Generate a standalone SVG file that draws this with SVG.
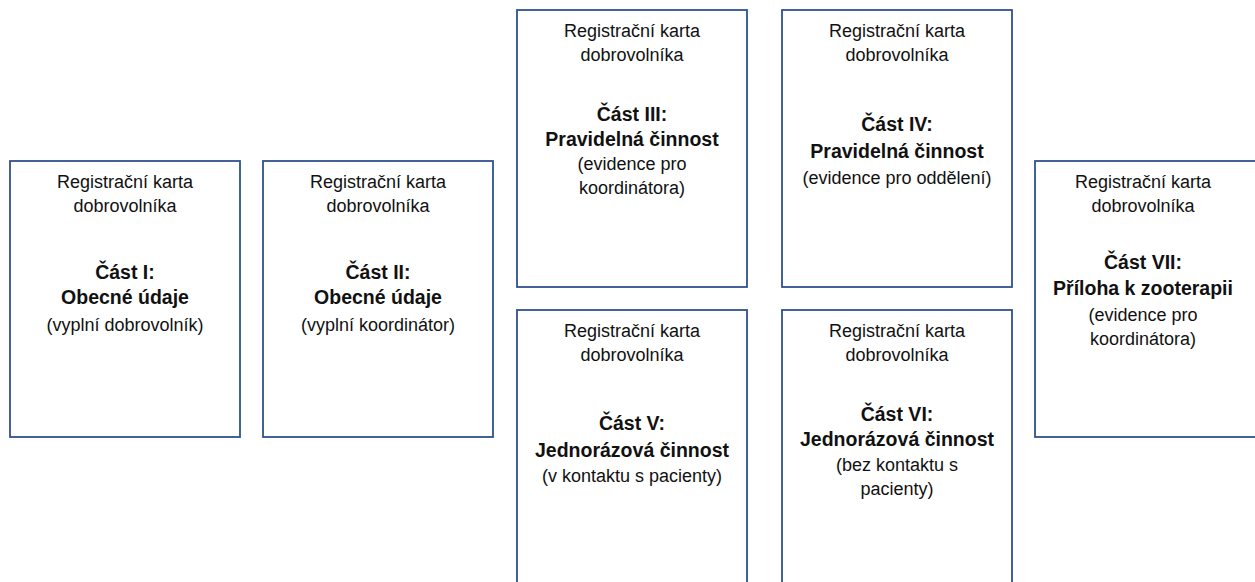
<svg xmlns="http://www.w3.org/2000/svg" width="1255" height="582" viewBox="0 0 1255 582">
<style>
.box{fill:#ffffff;stroke:#2f528f;stroke-width:1.8}
text{font-family:"Liberation Sans",Arial,sans-serif;fill:#111;text-anchor:middle}
.n{font-size:18px}
.b{font-size:19.5px;font-weight:bold}
</style>
<rect width="1255" height="582" fill="#ffffff"/>
<g id="connectors"></g>
<g id="node1">
<rect class="box" x="10" y="161" width="230" height="276"/>
<text class="n" x="125" y="188">Registrační karta</text>
<text class="n" x="125" y="212">dobrovolníka</text>
<text class="b" x="125" y="279">Část I:</text>
<text class="b" x="125" y="304">Obecné údaje</text>
<text class="n" x="125" y="331">(vyplní dobrovolník)</text>
</g>
<g id="node2">
<rect class="box" x="263" y="161" width="230" height="276"/>
<text class="n" x="378" y="188">Registrační karta</text>
<text class="n" x="378" y="212">dobrovolníka</text>
<text class="b" x="378" y="279">Část II:</text>
<text class="b" x="378" y="304">Obecné údaje</text>
<text class="n" x="378" y="331">(vyplní koordinátor)</text>
</g>
<g id="node3">
<rect class="box" x="517" y="10" width="230" height="277"/>
<text class="n" x="632" y="37">Registrační karta</text>
<text class="n" x="632" y="61">dobrovolníka</text>
<text class="b" x="632" y="121">Část III:</text>
<text class="b" x="632" y="146">Pravidelná činnost</text>
<text class="n" x="632" y="170">(evidence pro</text>
<text class="n" x="632" y="194">koordinátora)</text>
</g>
<g id="node4">
<rect class="box" x="782" y="10" width="230" height="277"/>
<text class="n" x="897" y="37">Registrační karta</text>
<text class="n" x="897" y="61">dobrovolníka</text>
<text class="b" x="897" y="131">Část IV:</text>
<text class="b" x="897" y="158">Pravidelná činnost</text>
<text class="n" x="897" y="184">(evidence pro oddělení)</text>
</g>
<g id="node5">
<rect class="box" x="517" y="310" width="230" height="290"/>
<text class="n" x="632" y="337">Registrační karta</text>
<text class="n" x="632" y="361">dobrovolníka</text>
<text class="b" x="632" y="430">Část V:</text>
<text class="b" x="632" y="457">Jednorázová činnost</text>
<text class="n" x="632" y="482">(v kontaktu s pacienty)</text>
</g>
<g id="node6">
<rect class="box" x="782" y="310" width="230" height="290"/>
<text class="n" x="897" y="337">Registrační karta</text>
<text class="n" x="897" y="361">dobrovolníka</text>
<text class="b" x="897" y="421">Část VI:</text>
<text class="b" x="897" y="446">Jednorázová činnost</text>
<text class="n" x="897" y="471">(bez kontaktu s</text>
<text class="n" x="897" y="495">pacienty)</text>
</g>
<g id="node7">
<rect class="box" x="1035" y="161" width="240" height="276"/>
<text class="n" x="1143" y="188">Registrační karta</text>
<text class="n" x="1143" y="212">dobrovolníka</text>
<text class="b" x="1143" y="269">Část VII:</text>
<text class="b" x="1143" y="295">Příloha k zooterapii</text>
<text class="n" x="1143" y="321">(evidence pro</text>
<text class="n" x="1143" y="345">koordinátora)</text>
</g>
</svg>
